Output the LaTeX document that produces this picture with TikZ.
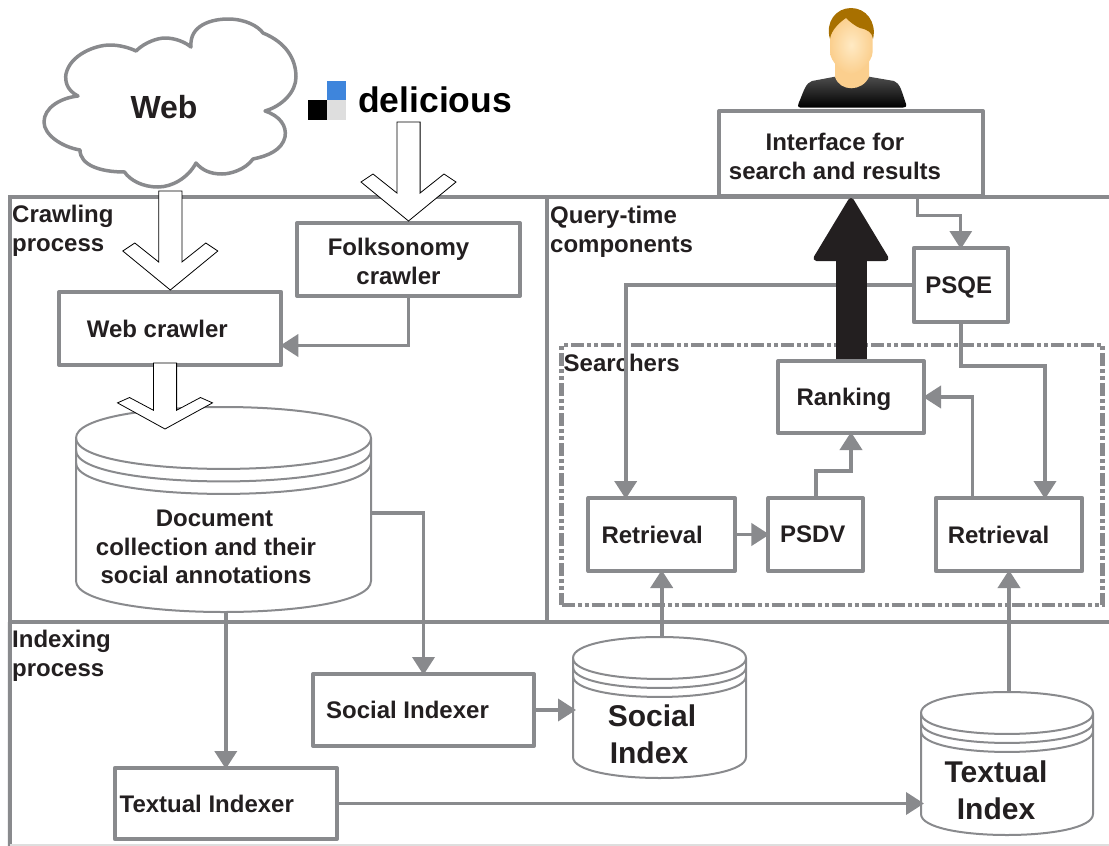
\documentclass[tikz,border=0pt]{standalone}
\usepackage{fontspec}
\setmainfont{Liberation Sans}
\usetikzlibrary{calc,arrows.meta}
\definecolor{linegray}{HTML}{898A8D}
\definecolor{ink}{HTML}{231F20}
\definecolor{hairbrown}{HTML}{A87000}
\definecolor{facelight}{HTML}{FFEAC4}
\definecolor{faceedge}{HTML}{FBCF8E}
\definecolor{logoblue}{HTML}{3E85DC}
\definecolor{logogray}{HTML}{DEDEDE}
\tikzset{
  boxtext/.style={font=\fontsize{24}{29}\selectfont\bfseries,text=ink,align=center,inner sep=0pt},
  headtext/.style={boxtext,align=left,anchor=north west},
  procbox/.style={boxtext,draw=linegray,line width=4pt,fill=white,line join=round,text depth=-2pt},
  frameline/.style={draw=linegray,line width=4pt},
  diskline/.style={draw=linegray,line width=2pt,fill=white},
  diskarc/.style={draw=linegray,line width=2pt},
  flow/.style={draw=linegray,line width=3.8pt,shorten >=-3pt,-{Triangle[length=18pt,width=22pt]}},
  hollow/.style={draw=black,line width=.8pt,fill=white,line join=miter},
  bigarrow/.style={draw=ink,line width=31pt,-{Triangle[length=66pt,width=78pt,line width=6pt,round]}}
}
\newcommand{\tallline}[1]{\rule{0pt}{#1pt}}
% name, centre x, top y, radius x, radius y, gap, height
\newcommand{\StackedDisk}[7]{
  \node[inner sep=0pt,outer sep=0pt,minimum width=2*#4,minimum height=#7] (#1) at (#2,#3+#7/2) {};
  \draw[diskline] (#2-#4,#3+#5) .. controls (#2-#4,#3-#5/3) and (#2+#4,#3-#5/3) .. (#2+#4,#3+#5)
    -- (#2+#4,#3+#7-#5) .. controls (#2+#4,#3+#7+#5/3) and (#2-#4,#3+#7+#5/3) .. (#2-#4,#3+#7-#5) -- cycle;
  \foreach \d in {0,1,2}
    \draw[diskarc] (#2-#4,#3+#5+\d*#6) .. controls (#2-#4,#3+#5+\d*#6+1.33*#5) and (#2+#4,#3+#5+\d*#6+1.33*#5) .. (#2+#4,#3+#5+\d*#6);
}
% tip, length, head scale
\newcommand{\HollowArrow}[3]{
  \begin{scope}[shift={(#1)}]
    \draw[hollow] (0,0) -- (-47.5,-39*#3) -- (-35.5,-47*#3) -- (-11.6,-28*#3) -- (-11.6,-#2)
      -- (11.6,-#2) -- (11.6,-28*#3) -- (35.5,-47*#3) -- (47.5,-39*#3) -- cycle;
  \end{scope}
}
\begin{document}
\begin{tikzpicture}[x=1pt,y=-1pt]
  \useasboundingbox (0,0) rectangle (1109,846);
  \node[frameline,inner sep=0pt,outer sep=0pt,minimum width=537.5pt,minimum height=425pt] (crawling) at (278.5,409.5) {};
  \draw[frameline] (crawling.north east) -- (1109,197);
  \draw[frameline] (crawling.south east) -- (1109,622);
  \draw[frameline] (crawling.south west) -- (10,846);
  \draw[draw=logogray,line width=1.5pt] (10,845) -- (1109,845);
  \node[frameline,line width=4.5pt,inner sep=0pt,outer sep=0pt,dash pattern=on 13pt off 3pt on 4pt off 3pt on 4pt off 3pt,minimum width=541pt,minimum height=260pt] (searchers) at (832,475) {};

  \node[headtext] (crawlinglabel) at (12,204.5) {Crawling\\process};
  \node[headtext] (querylabel) at (550,205.5) {Query-time\\components};
  \node[headtext] (indexinglabel) at (12,630) {Indexing\\process};
  \node[headtext] (searcherslabel) at (563.5,354) {Searchers};

  \draw[draw=linegray,line width=3.5pt,fill=white,line join=round] (191,47)
    .. controls (189,25) and (212,19) .. (228,19) .. controls (245,19) and (258,26) .. (263,33)
    .. controls (285,42) and (296,58) .. (296,77) .. controls (296,92) and (282,106) .. (265,111)
    .. controls (280,116) and (287,126) .. (285,137) .. controls (282,150) and (268,156) .. (253,159)
    .. controls (245,170) and (230,174) .. (222,174) .. controls (210,174) and (202,170) .. (196,163)
    .. controls (188,178) and (172,187) .. (158,187) .. controls (142,187) and (130,180) .. (124.5,172)
    .. controls (100,172) and (80,165) .. (80,150) .. controls (62,147) and (44,135) .. (44,122)
    .. controls (44,108) and (60,98) .. (78,96) .. controls (66,90) and (65,80) .. (66,74)
    .. controls (70,55) and (95,45) .. (110,45) .. controls (120,45) and (130,48) .. (136,51)
    .. controls (145,42) and (158,38) .. (165,38) .. controls (175,38) and (185,42) .. (191,47) -- cycle;
  \node[boxtext,font=\fontsize{32}{38}\selectfont\bfseries] (web) at (164,107) {Web};

  \fill[logoblue] (327,81) rectangle (346,100);
  \fill[black] (307.5,100) rectangle (327,119.5);
  \fill[logogray] (327,100) rectangle (346,119.5);
  \node[boxtext,anchor=base west,font=\fontsize{35.5}{40}\selectfont\bfseries,text=black] (delicious) at (358,112) {delicious};

  \shade[top color=black!70,bottom color=black,draw=none] (800,107.5) .. controls (797,107.5) and (798,104) .. (800,100)
    .. controls (804,90) and (806,83) .. (812,81) -- (835,76.7) -- (869,76.7) -- (894,81)
    .. controls (900,83) and (902,92) .. (906,104) .. controls (907,107) and (905,107.5) .. (903,107.5) -- cycle;
  \fill[faceedge] (835,60) -- (835,77) .. controls (840,92) and (862,92) .. (869,77) -- (869,60) -- cycle;
  \shade[inner color=facelight,outer color=faceedge,draw=none] (830,35) .. controls (830,22) and (840,16) .. (851,16)
    .. controls (862,16) and (872.6,22) .. (872.6,35) -- (872.6,52) .. controls (872.6,62) and (858,74) .. (851,74)
    .. controls (844,74) and (830,62) .. (830,52) -- cycle;
  \fill[hairbrown] (830,39) .. controls (825,22) and (836,8) .. (851,8) .. controls (866,8) and (877,22) .. (873,39)
    .. controls (872,32) and (868,30) .. (860,28) .. controls (855,26) and (850,22) .. (846,18)
    .. controls (840,22) and (831,30) .. (830,39) -- cycle;

  \StackedDisk{doccoll}{223.5}{407}{147.5}{31}{12.5}{205}
  \StackedDisk{socialindex}{659.5}{637}{86.5}{21}{9}{141}
  \StackedDisk{textualindex}{1007}{692}{86}{21}{9}{143}
  \node[boxtext,font=\fontsize{24}{28.5}\selectfont\bfseries] (doctext) at (206,547) {\hspace*{17pt}Document\\collection and their\\social annotations};
  \node[boxtext,font=\fontsize{30}{37}\selectfont\bfseries] (socialtext) at (652,734) {Social\\Index\kern6pt};
  \node[boxtext,font=\fontsize{30}{37}\selectfont\bfseries] (textualtext) at (996,790) {Textual\\Index};

  \node[procbox,minimum width=264pt,minimum height=85pt] (interface) at (851,153.5) {\tallline{23}Interface for\kern32pt\\search and results\kern32pt};
  \node[procbox,minimum width=223pt,minimum height=73pt] (folksonomy) at (408.5,259.5) {\tallline{20}Folksonomy\kern20pt\\crawler\kern20pt};
  \node[procbox,minimum width=222pt,minimum height=73pt] (webcrawler) at (170.3,328.5) {Web crawler\kern26pt};
  \node[procbox,minimum width=94pt,minimum height=74pt] (psqe) at (960.8,285) {PSQE\kern4pt};
  \node[procbox,minimum width=146pt,minimum height=72pt] (ranking) at (851,397) {Ranking\kern14pt};
  \node[procbox,minimum width=146.5pt,minimum height=73pt] (leftretrieval) at (661.7,534.5) {Retrieval\kern19pt};
  \node[procbox,minimum width=94.5pt,minimum height=73pt] (psdv) at (815.7,534.5) {PSDV\kern6pt};
  \node[procbox,minimum width=146.5pt,minimum height=73pt] (rightretrieval) at (1009,534.5) {Retrieval\kern21pt};
  \node[procbox,minimum width=221pt,minimum height=72pt] (socialindexer) at (423.5,710) {Social Indexer\kern32pt};
  \node[procbox,minimum width=222pt,minimum height=71pt] (textualindexer) at (225.8,803.5) {Textual Indexer\kern38pt};

  \coordinate (docin) at (165,429);
  \coordinate (docout) at (371,513);
  \coordinate (interfaceout) at (917,196);
  \HollowArrow{webcrawler.north}{99}{1}
  \HollowArrow{folksonomy.north}{99}{1}
  \HollowArrow{docin}{66}{.67}

  \draw[flow] (folksonomy.south) |- ($(webcrawler.east)+(0,17)$);
  \draw[flow] (textualindexer.north |- doccoll.south) -- (textualindexer.north);
  \draw[flow] (docout) -| (socialindexer.north);
  \draw[flow] (socialindexer.east) -- (socialindexer.east -| socialindex.west);
  \draw[flow] (textualindexer.east) -- (textualindexer.east -| textualindex.west);
  \draw[flow] (leftretrieval.south |- socialindex.north) -- (leftretrieval.south);
  \draw[flow] (rightretrieval.south |- textualindex.north) -- (rightretrieval.south);
  \draw[flow] (leftretrieval.east) -- (psdv.west);
  \draw[flow] (psdv.north) -- ++(0,-25) -| (ranking.south);
  \draw[flow] ($(rightretrieval.north)+(-36.5,0)$) |- (ranking.east);
  \draw[flow] (psqe.west) -| ($(leftretrieval.north)+(-36,0)$);
  \draw[flow] (psqe.south) -- ++(0,42) -| ($(rightretrieval.north)+(36,0)$);
  \draw[flow,line width=3pt] (interfaceout) -- ++(0,19) -| (psqe.north);
  \draw[bigarrow] (ranking.north) -- (interface.south);
\end{tikzpicture}
\end{document}
